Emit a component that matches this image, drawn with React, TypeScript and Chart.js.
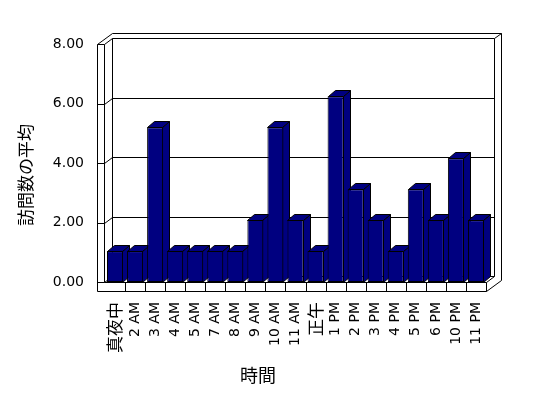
import React, { useEffect, useRef } from 'react';
import { Chart, registerables } from 'chart.js';

Chart.register(...registerables);

// ---- data ----
const categories = ['真夜中', '2 AM', '3 AM', '4 AM', '5 AM', '7 AM', '8 AM', '9 AM', '10 AM', '11 AM', '正午', '1 PM', '2 PM', '3 PM', '4 PM', '5 PM', '6 PM', '10 PM', '11 PM'];
const averageVisits = [1.04, 1.04, 5.2, 1.04, 1.04, 1.04, 1.04, 2.08, 5.2, 2.08, 1.04, 6.24, 3.12, 2.08, 1.04, 3.12, 2.08, 4.16, 2.08];
const yMin = 0;
const yMax = 8;
const yStep = 2;
const yAxisTitle = '訪問数の平均';
const xAxisTitle = '時間';

// ---- style constants ----
const BAR_COLOR = '#000080';
const LINE_COLOR = '#000000';
const DEPTH = { x: 8, y: -6 };      // front plane -> back wall plane
const BACK_T = { x: 7, y: -5 };     // back wall thickness
const WALL_W = 7;                   // left wall thickness
const FLOOR_H = 9;                  // floor slab thickness
const BAR_D = { x: 7, y: -6 };      // bar depth
const LATIN_FONT = '"DejaVu Sans", "Noto Sans CJK JP", sans-serif';
const CJK_FONT = '"Noto Sans CJK JP", "DejaVu Sans", sans-serif';

const isCJK = (s: string) => /[^\x00-\x7F]/.test(s || '');

const p = (v: number) => Math.round(v) + 0.5;

const threeDPlugin = {
  id: 'threeD',
  beforeDatasetsDraw(chart: any) {
    const { ctx, chartArea: a, scales } = chart;
    const ys = scales.y;
    const xs = scales.x;
    const L = a.left - 1;
    const OL = L - WALL_W;
    const R = a.right;
    const top = ys.getPixelForValue(yMax);
    const bot = ys.getPixelForValue(yMin);

    ctx.save();
    ctx.lineWidth = 1;
    ctx.strokeStyle = LINE_COLOR;
    const line = (pts: number[][]) => {
      ctx.beginPath();
      ctx.moveTo(p(pts[0][0]), p(pts[0][1]));
      for (let i = 1; i < pts.length; i++) ctx.lineTo(p(pts[i][0]), p(pts[i][1]));
      ctx.stroke();
    };

    // gridlines across left wall face + back wall
    for (let v = yMin; v <= yMax; v += yStep) {
      const yy = ys.getPixelForValue(v);
      line([[OL, yy], [L, yy], [L + DEPTH.x, yy + DEPTH.y], [R + DEPTH.x, yy + DEPTH.y]]);
    }

    // left wall
    line([[OL, top], [OL, bot + FLOOR_H]]);
    line([[L, top], [L, bot]]);
    line([[OL, top], [OL + DEPTH.x + BACK_T.x, top + DEPTH.y + BACK_T.y]]);
    // back wall
    line([[L + DEPTH.x, top + DEPTH.y], [L + DEPTH.x, bot + DEPTH.y]]);
    line([[OL + DEPTH.x + BACK_T.x, top + DEPTH.y + BACK_T.y], [R + DEPTH.x + BACK_T.x, top + DEPTH.y + BACK_T.y]]);
    line([[R + DEPTH.x, top + DEPTH.y], [R + DEPTH.x + BACK_T.x, top + DEPTH.y + BACK_T.y]]);
    line([[R + DEPTH.x, top + DEPTH.y], [R + DEPTH.x, bot + DEPTH.y]]);
    line([[R + DEPTH.x + BACK_T.x, top + DEPTH.y + BACK_T.y], [R + DEPTH.x + BACK_T.x, bot + FLOOR_H + DEPTH.y + BACK_T.y]]);
    // floor
    line([[L, bot], [R, bot]]);
    line([[OL, bot + FLOOR_H], [R, bot + FLOOR_H]]);
    line([[R, bot], [R, bot + FLOOR_H]]);
    line([[R, bot], [R + DEPTH.x, bot + DEPTH.y]]);
    line([[R, bot + FLOOR_H], [R + DEPTH.x + BACK_T.x, bot + FLOOR_H + DEPTH.y + BACK_T.y]]);
    for (let i = 1; i < categories.length; i++) {
      const xb = (xs.getPixelForValue(i - 1) + xs.getPixelForValue(i)) / 2;
      line([[xb, bot], [xb, bot + FLOOR_H]]);
    }

    // bar side and top faces
    const meta = chart.getDatasetMeta(0);
    ctx.fillStyle = BAR_COLOR;
    meta.data.forEach((bar: any) => {
      const { x: cx, y: ty, base, width } = bar.getProps(['x', 'y', 'base', 'width'], true);
      const l = Math.round(cx - width / 2) + 0.5;
      const r = Math.round(cx + width / 2) - 0.5;
      const t = Math.round(ty) + 0.5;
      const b = Math.round(base) + 0.5;
      const poly = (pts: number[][]) => {
        ctx.beginPath();
        ctx.moveTo(pts[0][0], pts[0][1]);
        for (let i = 1; i < pts.length; i++) ctx.lineTo(pts[i][0], pts[i][1]);
        ctx.closePath();
        ctx.fill();
        ctx.stroke();
      };
      poly([[r, t], [r + BAR_D.x, t + BAR_D.y], [r + BAR_D.x, b + BAR_D.y], [r, b]]);
      poly([[l, t], [l + BAR_D.x, t + BAR_D.y], [r + BAR_D.x, t + BAR_D.y], [r, t]]);
    });
    ctx.restore();
  },
  afterDraw(chart: any) {
    const { ctx } = chart;
    ctx.save();
    ctx.fillStyle = '#000';
    ctx.textAlign = 'center';
    ctx.textBaseline = 'middle';
    ctx.font = '17px ' + CJK_FONT;
    ctx.translate(26, 175);
    ctx.rotate(-Math.PI / 2);
    ctx.fillText(yAxisTitle, 0, 0);
    ctx.restore();

    ctx.save();
    ctx.fillStyle = '#000';
    ctx.textAlign = 'center';
    ctx.textBaseline = 'middle';
    ctx.font = '18px ' + CJK_FONT;
    ctx.fillText(xAxisTitle, 258, 375);
    ctx.restore();
  },
};

export default function App() {
  const ref = useRef<HTMLCanvasElement | null>(null);

  useEffect(() => {
    document.body.style.margin = '0';
    const canvas = ref.current;
    if (!canvas) return;
    const chart = new Chart(canvas, {
      type: 'bar',
      data: {
        labels: categories,
        datasets: [
          {
            data: averageVisits,
            backgroundColor: BAR_COLOR,
            borderColor: LINE_COLOR,
            borderWidth: 1,
            borderSkipped: false,
            barPercentage: 0.8,
            categoryPercentage: 1,
          },
        ],
      },
      options: {
        responsive: false,
        animation: false,
        devicePixelRatio: 1,
        layout: { padding: { left: 0, top: 44, right: 62, bottom: 0 } },
        plugins: { legend: { display: false }, tooltip: { enabled: false }, title: { display: false } },
        scales: {
          x: {
            grid: { display: false, drawTicks: false },
            border: { display: false },
            ticks: {
              autoSkip: false,
              minRotation: 90,
              maxRotation: 90,
              padding: 20,
              color: '#000',
              font: (c: any) => {
                const lbl = categories[c.index] || '';
                return isCJK(lbl) ? { family: CJK_FONT, size: 17 } : { family: LATIN_FONT, size: 14 };
              },
            },
            afterFit: (s: any) => {
              s.height = 116;
            },
          },
          y: {
            min: yMin,
            max: yMax,
            grid: { display: false, drawTicks: false },
            border: { display: false },
            ticks: {
              stepSize: yStep,
              padding: 21,
              color: '#000',
              font: { family: LATIN_FONT, size: 14 },
              callback: (v: any) => Number(v).toFixed(2),
            },
            afterFit: (s: any) => {
              s.width = 105;
            },
          },
        },
      },
      plugins: [threeDPlugin],
    });
    return () => chart.destroy();
  }, []);

  return (
    <div style={{ position: 'absolute', left: 0, top: 0, width: 548, height: 398, background: '#fff' }}>
      <canvas ref={ref} width={548} height={398} style={{ display: 'block' }} />
    </div>
  );
}
